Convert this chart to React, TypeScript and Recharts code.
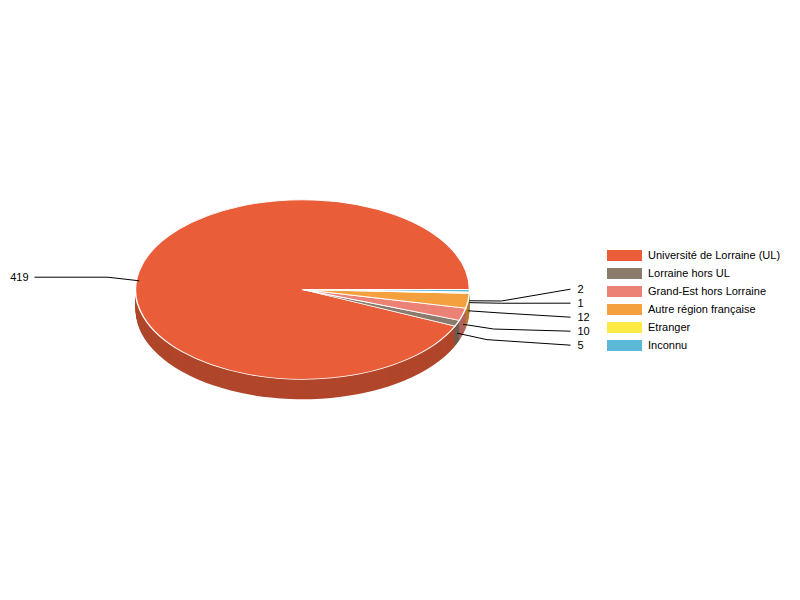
import { PieChart, Pie, Cell, Legend } from "recharts";

const CATEGORIES = [
  "Université de Lorraine (UL)",
  "Lorraine hors UL",
  "Grand-Est hors Lorraine",
  "Autre région française",
  "Etranger",
  "Inconnu",
];
const VALUES = [419, 5, 10, 12, 1, 2];
const COLORS = ["#E95D39", "#8B7B6C", "#EC8275", "#F5A03E", "#FDEB44", "#5BB8D6"];

const data = CATEGORIES.map((name, i) => ({ name, value: VALUES[i] }));

// geometry of the tilted pie
const CX = 302.5;
const CY = 289.5;
const R = 167;
const K = 0.5375; // vertical squash
const DEPTH = 20;
const ELBOW = 32;
const LINE_END = 268;
const ROW = 14;
const FONT = "Arial, 'Liberation Sans', sans-serif";

const shade = (hex: string, f: number) => {
  const n = parseInt(hex.slice(1), 16);
  const c = [(n >> 16) & 255, (n >> 8) & 255, n & 255].map((v) => Math.round(v * f));
  return `rgb(${c[0]},${c[1]},${c[2]})`;
};

// label layout: spread the labels that would overlap on each side
const total = VALUES.reduce((s, v) => s + v, 0);
let acc = 0;
const mids = VALUES.map((v) => {
  const m = ((acc + v / 2) / total) * 360;
  acc += v;
  return m;
});
const elbowY = mids.map(
  (m) => CY - (R + ELBOW) * K * Math.sin((m * Math.PI) / 180) + DEPTH / 2
);
const LABEL_Y: number[] = [...elbowY];
[true, false].forEach((rightSide) => {
  const idx = mids
    .map((m, i) => i)
    .filter((i) => (Math.cos((mids[i] * Math.PI) / 180) >= 0) === rightSide)
    .sort((a, b) => elbowY[a] - elbowY[b]);
  const crowded = idx.some((i, j) => j > 0 && elbowY[i] - elbowY[idx[j - 1]] < ROW);
  if (crowded) {
    const mean = idx.reduce((s, i) => s + elbowY[i], 0) / idx.length;
    idx.forEach((i, j) => {
      LABEL_Y[i] = mean + (j - (idx.length - 1) / 2) * ROW;
    });
  }
});

const renderLabel = (props: any) => {
  const { cx, cy, outerRadius, midAngle, index, value } = props;
  const rad = (-midAngle * Math.PI) / 180;
  const pt = (r: number) => ({
    x: cx + r * Math.cos(rad),
    y: cy + r * K * Math.sin(rad) + DEPTH / 2,
  });
  const s = pt(outerRadius);
  const e = pt(outerRadius + ELBOW);
  const right = Math.cos(rad) >= 0;
  const ty = LABEL_Y[index];
  const ex = right ? cx + LINE_END : cx - LINE_END;
  return (
    <g key={`lbl-${index}`}>
      <polyline
        points={`${s.x},${s.y} ${e.x},${e.y} ${ex},${ty}`}
        fill="none"
        stroke="#000"
        strokeWidth={1}
      />
      <text
        x={right ? ex + 7 : ex - 6}
        y={ty}
        textAnchor={right ? "start" : "end"}
        dominantBaseline="central"
        fontSize={11}
        fontFamily={FONT}
        fill="#000"
      >
        {value}
      </text>
    </g>
  );
};

const renderLegend = (props: any) => {
  const payload = [...(props.payload ?? [])].sort(
    (a: any, b: any) => CATEGORIES.indexOf(a.value) - CATEGORIES.indexOf(b.value)
  );
  return (
    <div style={{ fontFamily: FONT, fontSize: 11, color: "#000" }}>
      {payload.map((entry: any, i: number) => (
        <div key={i} style={{ display: "flex", alignItems: "center", height: 18 }}>
          <span
            style={{
              display: "inline-block",
              width: 35,
              height: 11,
              marginRight: 6,
              background: COLORS[CATEGORIES.indexOf(entry.value)],
            }}
          />
          <span>{entry.value}</span>
        </div>
      ))}
    </div>
  );
};

const offsets = Array.from({ length: DEPTH }, (_, i) => DEPTH - i);

export default function App() {
  return (
    <div style={{ position: "relative", width: 800, height: 600, overflow: "hidden", background: "#fff" }}>
      <style>{"body{margin:0}"}</style>
      <div
        style={{
          position: "absolute",
          left: 0,
          top: 0,
          width: 800,
          height: 600,
          transform: `scaleY(${K})`,
          transformOrigin: `${CX}px ${CY}px`,
        }}
      >
        <PieChart width={800} height={600} margin={{ top: 0, right: 0, bottom: 0, left: 0 }}>
          {offsets.map((off) => (
            <Pie
              key={`side-${off}`}
              data={data}
              dataKey="value"
              nameKey="name"
              cx={CX}
              cy={CY + off / K}
              outerRadius={R}
              startAngle={0}
              endAngle={360}
              stroke="none"
              isAnimationActive={false}
            >
              {data.map((d, i) => (
                <Cell key={`s-${off}-${i}`} fill={shade(COLORS[i], 0.755)} />
              ))}
            </Pie>
          ))}
          <Pie
            data={data}
            dataKey="value"
            nameKey="name"
            cx={CX}
            cy={CY}
            outerRadius={R}
            startAngle={0}
            endAngle={360}
            stroke="#fff"
            strokeWidth={1.5}
            isAnimationActive={false}
          >
            {data.map((d, i) => (
              <Cell key={`top-${i}`} fill={COLORS[i]} />
            ))}
          </Pie>
        </PieChart>
      </div>
      <div style={{ position: "absolute", left: 0, top: 0, width: 800, height: 600 }}>
        <PieChart width={800} height={600} margin={{ top: 0, right: 0, bottom: 0, left: 0 }}>
          <Pie
            data={data}
            dataKey="value"
            nameKey="name"
            cx={CX}
            cy={CY}
            outerRadius={R}
            startAngle={0}
            endAngle={360}
            fill="transparent"
            stroke="none"
            label={renderLabel}
            labelLine={false}
            isAnimationActive={false}
          />
          <Legend
            layout="vertical"
            align="center"
            verticalAlign="middle"
            itemSorter={(item: any) => CATEGORIES.indexOf(item.value)}
            wrapperStyle={{ left: 607, top: 246 }}
            content={renderLegend}
          />
        </PieChart>
      </div>
    </div>
  );
}
